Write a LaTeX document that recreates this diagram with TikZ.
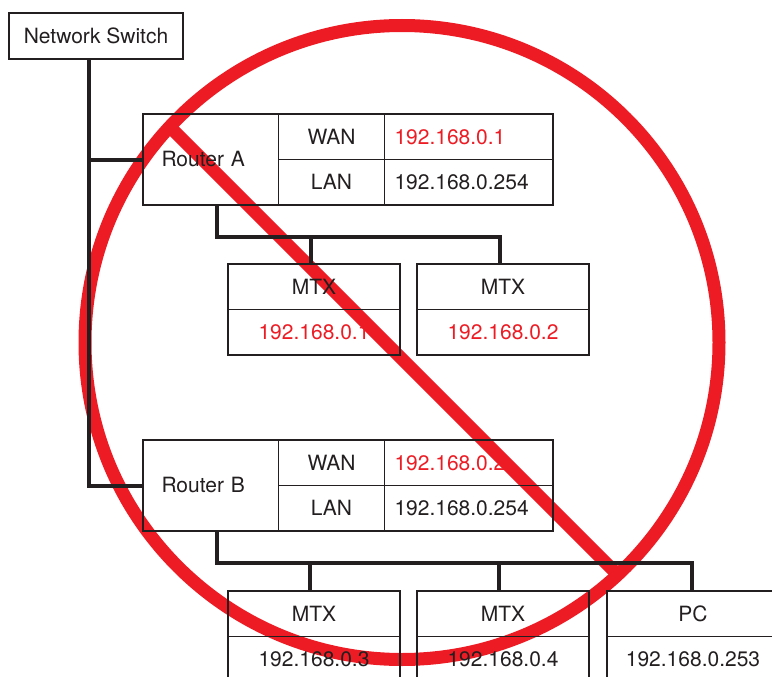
\documentclass[tikz,border=0pt]{standalone}
\usepackage{fontspec}
\setmainfont{TeX Gyre Heros}
\definecolor{ink}{HTML}{231F20}
\definecolor{stopred}{HTML}{ED1C24}
\begin{document}
\begin{tikzpicture}[x=1pt, y=-1pt,
    cell/.style={draw=ink, line width=1pt, anchor=north west, inner sep=0pt, minimum width=171pt, minimum height=45pt, text=ink, font=\fontsize{21}{25}\selectfont},
    port/.style={cell, minimum width=106pt},
    addr/.style={cell, minimum width=168pt, text width=148pt, inner xsep=10pt, align=left},
    router/.style={cell, minimum width=135pt, minimum height=90pt, text width=99pt, inner xsep=18pt, align=left},
    frame/.style={draw=ink, line width=2pt},
    wire/.style={draw=ink, line width=4pt, line join=miter},
    nope/.style={draw=stopred, line width=13pt}
]
    \useasboundingbox (0,0) rectangle (772,677);
    \clip (0,0) rectangle (772,677);

    \draw[nope] (402,342.5) circle[radius=317pt];
    \draw[nope] (169,126) -- (618,575);

    \node[cell, minimum width=173pt] (ns) at (9,13) {Network Switch};

    \node[router] (ra) at (143,114) {Router A};
    \node[port] (raw) at (278,114) {WAN};
    \node[addr, text=stopred] (rawip) at (384,114) {192.168.0.1};
    \node[port] (ral) at (278,159) {LAN};
    \node[addr] (ralip) at (384,159) {192.168.0.254};

    \node[router] (rb) at (143,440) {Router B};
    \node[port] (rbw) at (278,440) {WAN};
    \node[addr, text=stopred] (rbwip) at (384,440) {192.168.0.2};
    \node[port] (rbl) at (278,485) {LAN};
    \node[addr] (rblip) at (384,485) {192.168.0.254};

    \node[cell] (ma1) at (228,264) {MTX};
    \node[cell, text=stopred] (ma1ip) at (228,309) {192.168.0.1};
    \node[cell] (ma2) at (417,264) {MTX};
    \node[cell, text=stopred] (ma2ip) at (417,309) {192.168.0.2};

    \node[cell] (mb1) at (228,591) {MTX};
    \node[cell] (mb1ip) at (228,636) {192.168.0.3};
    \node[cell] (mb2) at (417,591) {MTX};
    \node[cell] (mb2ip) at (417,636) {192.168.0.4};
    \node[cell] (pc) at (607,591) {PC};
    \node[cell] (pcip) at (607,636) {192.168.0.253};

    \foreach \a/\b in {ns/ns, ra/ralip, rb/rblip, ma1/ma1ip, ma2/ma2ip, mb1/mb1ip, mb2/mb2ip, pc/pcip}
        \draw[frame] (\a.north west) rectangle (\b.south east);

    \draw[wire] ([xshift=80pt]ns.south west) |- (rb.west);
    \draw[wire] ([xshift=80pt]ns.south west) |- (ra.west);

    \coordinate (busA) at (217,237);
    \draw[wire] (ra.south -| busA) -- (busA) -| ([xshift=-3pt]ma2.north);
    \draw[wire] (busA) -| ([xshift=-3pt]ma1.north);

    \coordinate (busB) at (217,563);
    \draw[wire] (rb.south -| busB) -- (busB) -| ([xshift=-1pt]pc.north);
    \draw[wire] (busB) -| ([xshift=-4pt]mb1.north);
    \draw[wire] (busB) -| ([xshift=-4pt]mb2.north);
\end{tikzpicture}
\end{document}
